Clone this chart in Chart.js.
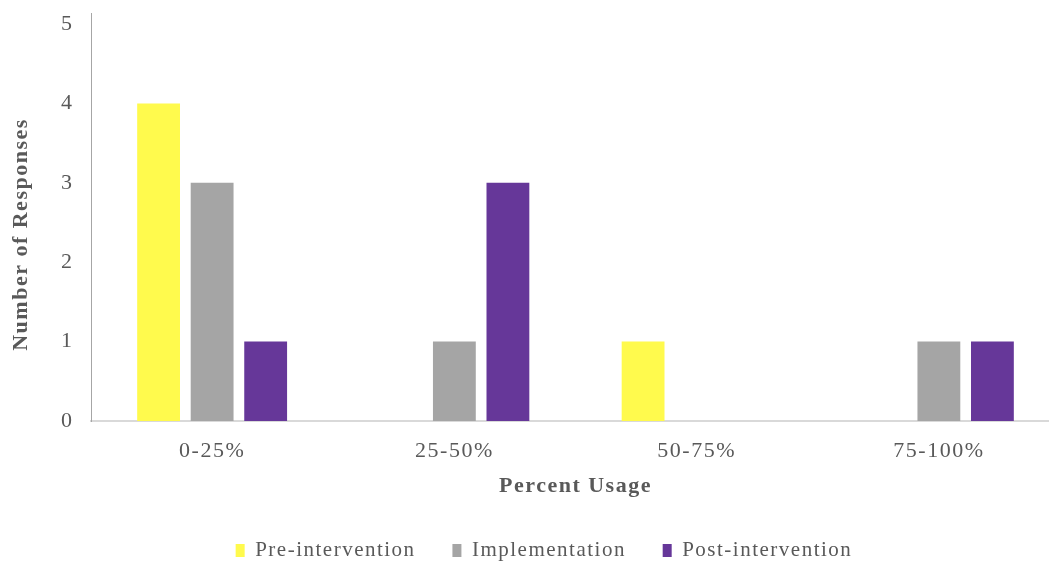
<!DOCTYPE html>
<html>
<head>
<meta charset="utf-8">
<script src="https://cdn.jsdelivr.net/npm/chart.js@4/dist/chart.umd.min.js"></script>
<style>
  html, body { margin: 0; padding: 0; background: #fff; overflow: hidden; }
  #wrap { width: 1060px; height: 571px; position: relative; }
</style>
</head>
<body>
<div id="wrap"><canvas id="chart"></canvas></div>
<script>
const categories = ["0-25%", "25-50%", "50-75%", "75-100%"];
const preIntervention = [4, 0, 1, 0];
const implementation = [3, 1, 0, 1];
const postIntervention = [1, 3, 0, 1];

const COLORS = {
  PRE: "rgb(255, 250, 77)",
  IMP: "rgb(165, 165, 165)",
  POST: "rgb(102, 55, 153)"
};
const TEXT = "#595959";
const FONT = "'Liberation Serif', 'Times New Roman', serif";

// the serif labels are drawn slightly tracked out
const tracking = {
  id: "tracking",
  beforeLayout(chart) { chart.ctx.letterSpacing = "1.5px"; },
  beforeDraw(chart) { chart.ctx.letterSpacing = "1.5px"; }
};

// keep the legend centred under the whole figure rather than the padded box
const legendShift = {
  id: "legendShift",
  afterLayout(chart) {
    chart.legend.left += 10;
    chart.legend.right += 10;
  }
};

function series(label, data, color) {
  return {
    label: label,
    data: data,
    backgroundColor: color,
    borderColor: color,
    borderWidth: 0,
    categoryPercentage: 0.663,
    barPercentage: 0.8
  };
}

const chartConfig = {
  type: "bar",
  data: {
    labels: categories,
    datasets: [
      series("Pre-intervention", preIntervention, COLORS.PRE),
      series("Implementation", implementation, COLORS.IMP),
      series("Post-intervention", postIntervention, COLORS.POST)
    ]
  },
  options: {
    responsive: true,
    maintainAspectRatio: false,
    animation: false,
    layout: {
      padding: { left: 8, right: 0, top: 13, bottom: 0 }
    },
    scales: {
      x: {
        grid: { display: false, drawTicks: false },
        border: { display: true, color: "#d9d9d9", width: 2 },
        ticks: {
          color: TEXT,
          padding: 17,
          font: { family: FONT, size: 22 }
        },
        title: {
          display: true,
          text: "Percent Usage",
          color: TEXT,
          padding: { top: 0, bottom: 4 },
          font: { family: FONT, size: 22, weight: "bold" }
        },
        afterFit: (scale) => {
          scale.height = 82.2;
        }
      },
      y: {
        min: 0,
        max: 5.14,
        bounds: "data",
        grid: { display: false, drawTicks: false },
        border: { display: true, color: "#a6a6a6", width: 1 },
        ticks: {
          stepSize: 1,
          includeBounds: false,
          color: TEXT,
          padding: 17.5,
          font: { family: FONT, size: 22 }
        },
        title: {
          display: true,
          text: "Number of Responses     ",
          color: TEXT,
          padding: { top: 0, bottom: 0 },
          font: { family: FONT, size: 22, weight: "bold" }
        },
        afterFit: (scale) => {
          scale.width = 83;
          scale.paddingTop = 0;
          scale.paddingBottom = 0;
        }
      }
    },
    plugins: {
      legend: {
        position: "bottom",
        labels: {
          color: TEXT,
          boxWidth: 9,
          boxHeight: 13,
          padding: 36.8,
          font: { family: FONT, size: 21 }
        }
      },
      tooltip: { enabled: false }
    }
  },
  plugins: [tracking, legendShift]
};

new Chart(document.getElementById("chart"), chartConfig);
</script>
</body>
</html>
